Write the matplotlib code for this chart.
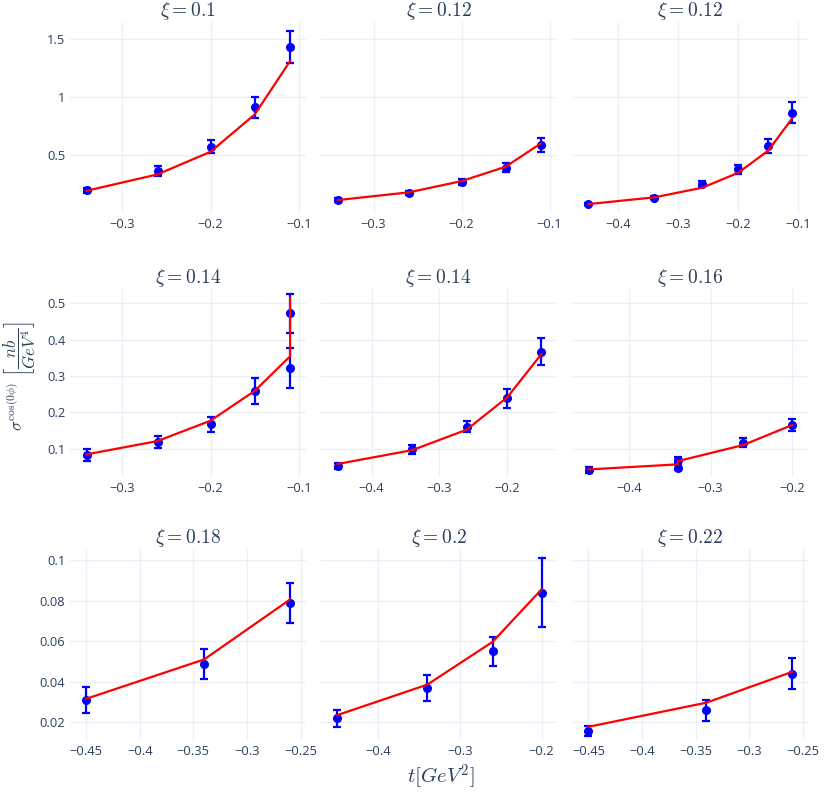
import numpy as np
import matplotlib
matplotlib.use('Agg')
from matplotlib import pyplot as plt
from matplotlib.ticker import FuncFormatter

plt.rcParams['mathtext.fontset'] = 'cm'
plt.rcParams['font.family'] = ['Open Sans', 'DejaVu Sans']

# xi value of each panel (row by row)
xi_labels = ['0.1', '0.12', '0.12', '0.14', '0.14', '0.16', '0.18', '0.2', '0.22']

# -t bins of the measured points
t_points = [
    [-0.34, -0.26, -0.2, -0.15, -0.11],
    [-0.34, -0.26, -0.2, -0.15, -0.11],
    [-0.45, -0.34, -0.26, -0.2, -0.15, -0.11],
    [-0.34, -0.26, -0.2, -0.15, -0.11, -0.11],
    [-0.45, -0.34, -0.26, -0.2, -0.15],
    [-0.45, -0.34, -0.34, -0.26, -0.2],
    [-0.45, -0.34, -0.26],
    [-0.45, -0.34, -0.26, -0.2],
    [-0.45, -0.34, -0.26],
]

# measured sigma^cos(0phi) and its errors
sigma_data = [
    [0.20, 0.365, 0.574, 0.914, 1.436],
    [0.115, 0.172, 0.270, 0.393, 0.586],
    [0.078, 0.135, 0.250, 0.379, 0.583, 0.867],
    [0.0826, 0.119, 0.167, 0.259, 0.322, 0.472],
    [0.053, 0.098, 0.161, 0.239, 0.367],
    [0.041, 0.068, 0.048, 0.117, 0.165],
    [0.0308, 0.049, 0.0789],
    [0.022, 0.037, 0.055, 0.0839],
    [0.0159, 0.026, 0.044],
]
sigma_err = [
    [0.022, 0.043, 0.057, 0.093, 0.137],
    [0.015, 0.017, 0.025, 0.040, 0.060],
    [0.010, 0.013, 0.025, 0.040, 0.060, 0.092],
    [0.0166, 0.017, 0.021, 0.036, 0.054, 0.054],
    [0.009, 0.012, 0.015, 0.026, 0.036],
    [0.008, 0.008, 0.006, 0.012, 0.017],
    [0.0064, 0.0074, 0.0097],
    [0.0043, 0.0064, 0.0072, 0.017],
    [0.0025, 0.0051, 0.0078],
]

# model curve
sigma_model = [
    [0.195, 0.336, 0.531, 0.853, 1.313],
    [0.115, 0.181, 0.278, 0.402, 0.603],
    [0.080, 0.138, 0.221, 0.350, 0.540, 0.819],
    [0.0845, 0.121, 0.177, 0.259, 0.354, 0.515],
    [0.058, 0.096, 0.152, 0.241, 0.359],
    [0.043, 0.057, 0.066, 0.110, 0.165],
    [0.0316, 0.051, 0.0805],
    [0.0236, 0.0386, 0.0597, 0.0856],
    [0.0178, 0.0297, 0.0449],
]

xlims = [(-0.359, -0.092), (-0.36, -0.092), (-0.477, -0.083),
         (-0.359, -0.092), (-0.475, -0.127), (-0.470, -0.180),
         (-0.465, -0.245), (-0.4705, -0.1816), (-0.465, -0.245)]
xticks = [[-0.3, -0.2, -0.1], [-0.3, -0.2, -0.1], [-0.4, -0.3, -0.2, -0.1],
          [-0.3, -0.2, -0.1], [-0.4, -0.3, -0.2], [-0.4, -0.3, -0.2],
          [-0.45, -0.4, -0.35, -0.3, -0.25], [-0.4, -0.3, -0.2],
          [-0.45, -0.4, -0.35, -0.3, -0.25]]
ylims = [(0.003, 1.65), (0.023, 0.539), (0.0113, 0.1053)]
yticks = [[0.5, 1, 1.5], [0.1, 0.2, 0.3, 0.4, 0.5], [0.02, 0.04, 0.06, 0.08, 0.1]]

W, H = 824, 797
fig = plt.figure(figsize=(W / 100, H / 100), dpi=100)

col_x = [(70, 306), (320.7, 556.7), (572.3, 808.3)]
row_y = [(22, 213), (289, 476.7), (549.3, 740)]

fmt = FuncFormatter(lambda v, p: '{:g}'.format(round(v, 4)).replace('-', '\u2212'))
tick_color = '#2a3f5f'
grid_color = '#ebf0f8'

for i in range(9):
    r, c = divmod(i, 3)
    x0, x1 = col_x[c]
    y0, y1 = row_y[r]
    ax = fig.add_axes([x0 / W, 1 - y1 / H, (x1 - x0) / W, (y1 - y0) / H])

    ax.errorbar(t_points[i], sigma_data[i], yerr=sigma_err[i], fmt='o', color='blue',
                ms=5.5, elinewidth=1.6, capsize=3, capthick=1.6, zorder=3)
    ax.plot(t_points[i], sigma_model[i], color='red', lw=1.6, zorder=4)

    ax.set_xlim(*xlims[i])
    ax.set_ylim(*ylims[r])
    ax.set_xticks(xticks[i])
    ax.set_yticks(yticks[r])
    ax.xaxis.set_major_formatter(fmt)
    ax.yaxis.set_major_formatter(fmt)
    if c > 0:
        ax.tick_params(axis='y', labelleft=False)
    ax.tick_params(length=0, labelsize=9.3, colors=tick_color, pad=3.5)
    ax.grid(True, color=grid_color, lw=1)
    ax.set_axisbelow(True)
    for s in ax.spines.values():
        s.set_visible(False)
    ax.set_title(r'$\xi = %s$' % xi_labels[i], fontsize=14, color=tick_color, pad=3)

fig.text(20 / W, 1 - 376 / H, r'$\sigma^{\cos(0\phi)}\ \left[\dfrac{nb}{GeV^4}\right]$',
         rotation=90, ha='center', va='center', fontsize=12, color=tick_color)
fig.text(441 / W, 1 - 777 / H, r'$t[GeV^2]$', ha='center', va='center',
         fontsize=15, color=tick_color)

plt.savefig('out.png', dpi=100)
